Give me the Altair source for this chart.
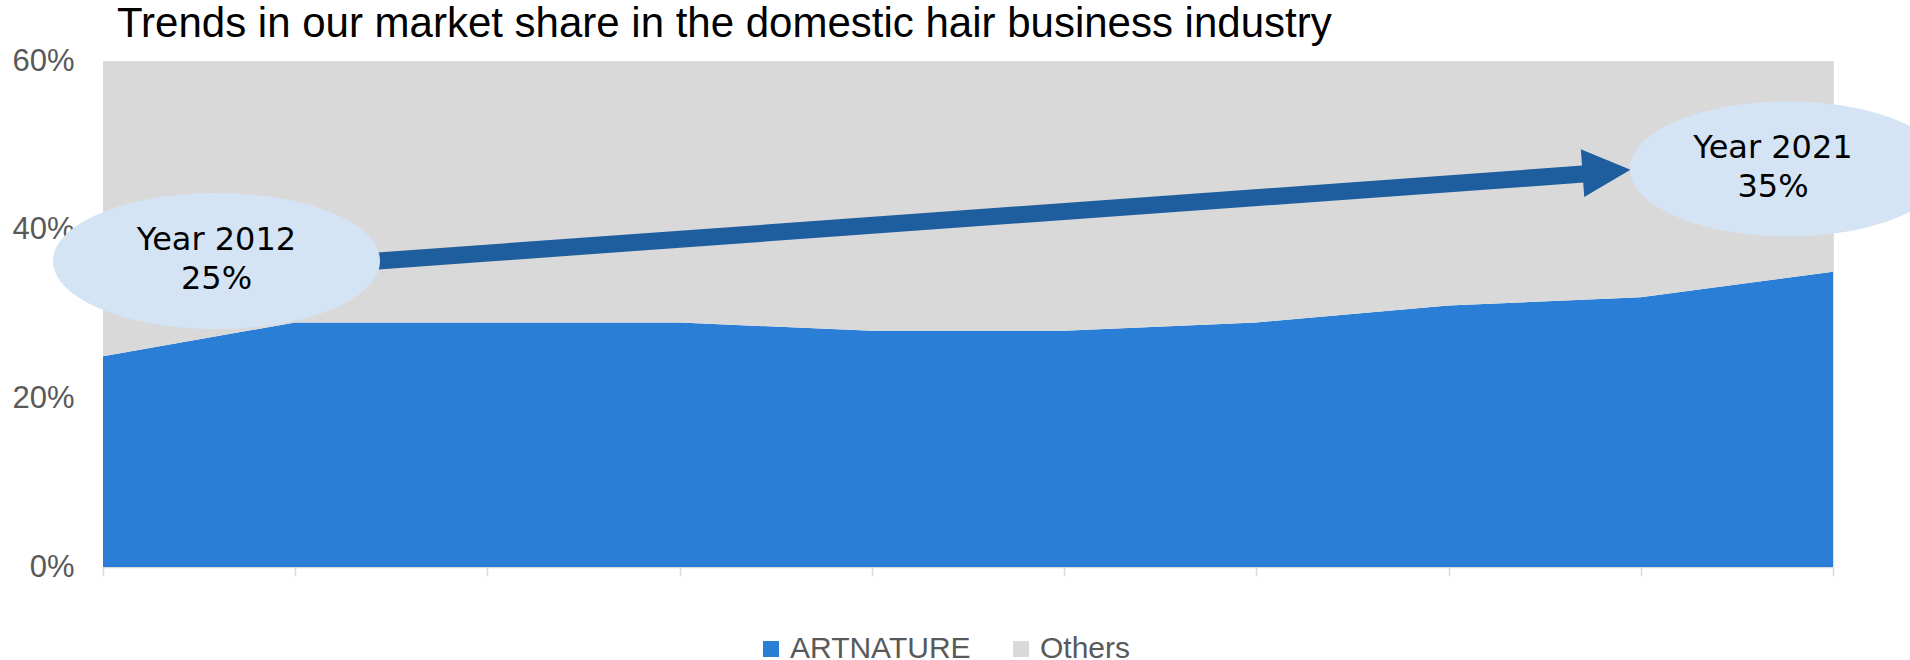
import altair as alt
import pandas as pd

# ---- data ----
years = [2012, 2013, 2014, 2015, 2016, 2017, 2018, 2019, 2020, 2021]
artnature = [25, 29, 29, 29, 28, 28, 29, 31, 32, 35]   # % share
others = [100 - v for v in artnature]
series_names = ["ARTNATURE", "Others"]
y_ticks = [0, 0.2, 0.4, 0.6]
title_text = "Trends in our market share in the domestic hair business industry"

rows = []
for y, a, o in zip(years, artnature, others):
    rows.append({"year": y, "series": series_names[0], "share": a / 100, "ord": 0})
    rows.append({"year": y, "series": series_names[1], "share": o / 100, "ord": 1})
df = pd.DataFrame(rows)

BLUE = "#2B7ED6"
GRAY = "#D9D9D9"
ELL = "#D4E4F5"
ARROW = "#1F5E9E"

W, H = 1730, 506

area = alt.Chart(df).mark_area(clip=True, opacity=1).encode(
    x=alt.X("year:Q", scale=alt.Scale(domain=[years[0], years[-1]], nice=False, zero=False),
            axis=alt.Axis(values=years, labels=False, title=None, grid=False,
                          domainColor=GRAY, domainWidth=1.5, tickColor=GRAY, tickWidth=1.5, tickSize=9)),
    y=alt.Y("share:Q", stack="zero", scale=alt.Scale(domain=[0, 0.6], nice=False),
            axis=alt.Axis(values=y_ticks, format=".0%", title=None, grid=False, domain=False, ticks=False,
                          labelFontSize=31, labelFont="Liberation Sans", labelColor="#595959",
                          labelPadding=29)),
    color=alt.Color("series:N", scale=alt.Scale(domain=series_names, range=[BLUE, GRAY]),
                    legend=alt.Legend(title=None, orient="none", direction="horizontal",
                                      legendX=653, legendY=573, symbolType="square", symbolSize=256,
                                      symbolStrokeWidth=0, symbolOpacity=1, labelLimit=0,
                                      labelFontSize=30, labelFont="Liberation Sans", labelColor="#595959",
                                      labelOffset=4, columnPadding=35, padding=0)),
    order=alt.Order("ord:Q"),
)

k = 0.5523
def ellipse_path(r):
    return (f"M -1 0 C -1 {-k*r:.4f} {-k:.4f} {-r:.4f} 0 {-r:.4f} "
            f"C {k:.4f} {-r:.4f} 1 {-k*r:.4f} 1 0 "
            f"C 1 {k*r:.4f} {k:.4f} {r:.4f} 0 {r:.4f} "
            f"C {-k:.4f} {r:.4f} -1 {k*r:.4f} -1 0 Z")

one = pd.DataFrame({"a": [0]})

ell_left = alt.Chart(one).mark_point(shape=ellipse_path(0.416), filled=True, opacity=1,
                                     color=ELL, strokeWidth=0, size=327 ** 2).encode(
    x=alt.value(113.5), y=alt.value(200))
ell_right = alt.Chart(one).mark_point(shape=ellipse_path(0.427), filled=True, opacity=1,
                                      color=ELL, strokeWidth=0, size=316 ** 2).encode(
    x=alt.value(1685), y=alt.value(108))

shaft = alt.Chart(one).mark_rule(color=ARROW, strokeWidth=17).encode(
    x=alt.value(275), y=alt.value(200), x2=alt.value(1487), y2=alt.value(112.6))
head = alt.Chart(one).mark_point(shape="M -1 -1 L 1 0 L -1 1 Z", filled=True, opacity=1,
                                 color=ARROW, strokeWidth=0, size=48 ** 2, angle=356).encode(
    x=alt.value(1503.5), y=alt.value(110.5))

def label(txt, x, y, size=32, font="DejaVu Sans", align="center"):
    return alt.Chart(one).mark_text(text=txt, font=font, fontSize=size, color="#000000",
                                    align=align, baseline="alphabetic").encode(
        x=alt.value(x), y=alt.value(y))

texts = [
    label(f"Year {years[0]}", 113.5, 189),
    label(f"{artnature[0]}%", 113.5, 228.3),
    label(f"Year {years[-1]}", 1670, 96.7),
    label(f"{artnature[-1]}%", 1670, 135.7),
]

title = label(title_text, 14, -23.7, size=42, font="Liberation Sans", align="left")

chart = alt.layer(area, shaft, head, ell_left, ell_right, *texts, title).properties(
    width=W, height=H,
    autosize=alt.AutoSizeParams(type="none"),
    padding={"left": 103, "top": 61, "right": 77, "bottom": 93},
).configure_view(strokeWidth=0).configure(background="white")

chart.save("out.html", embed_options={"renderer": "svg", "actions": False})
